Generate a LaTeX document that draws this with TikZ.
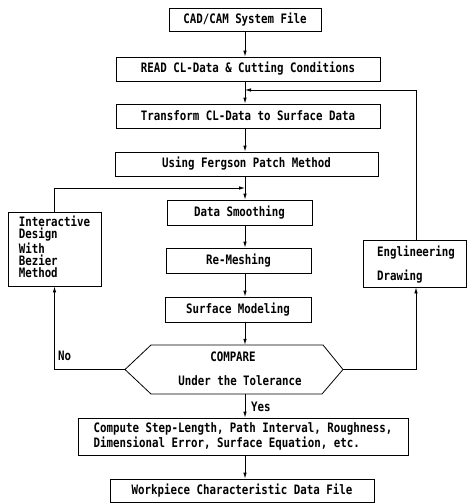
\documentclass[tikz,border=0pt]{standalone}
\usepackage{fontspec}
\setmainfont{DejaVu Sans Mono}[FakeStretch=0.83]
\usetikzlibrary{arrows.meta}
\begin{document}
\begin{tikzpicture}[x=1pt,y=-1pt,
  every node/.style={font=\bfseries\fontsize{13}{13}\selectfont, inner sep=0pt},
  box/.style={draw, line width=0.8pt},
  conn/.style={draw, line width=0.8pt, -{Latex[length=6pt,width=3.5pt]}},
  plain/.style={draw, line width=0.8pt}]
\useasboundingbox (0,0) rectangle (467,503);
\coordinate (cx) at (245,0);
\coordinate (ex) at (416,0);
% boxes
\node[box, minimum width=152pt, minimum height=23pt] (cad) at (245,19.5) {CAD/CAM System File};
\node[box, minimum width=264pt, minimum height=24pt] (read) at (248,69) {READ CL-Data \& Cutting Conditions};
\node[box, minimum width=264pt, minimum height=24pt] (trans) at (248,116) {Transform CL-Data to Surface Data};
\node[box, minimum width=263pt, minimum height=24pt] (fer) at (246.5,164) {Using Fergson Patch Method};
\node[box, minimum width=145pt, minimum height=25pt] (ds) at (239.5,212.5) {Data Smoothing};
\node[box, minimum width=145pt, minimum height=25pt] (rm) at (238.5,260.5) {Re-Meshing};
\node[box, minimum width=146pt, minimum height=25pt] (sm) at (238,309.5) {Surface Modeling};
\node[box, minimum width=93pt, minimum height=74pt] (inter) at (54.5,249) {};
\node[align=left, font=\bfseries\fontsize{13}{12.3}\selectfont] (intertxt) at (54.5,247) {Interactive\\Design\\With\\Bezier\\Method};
\node[box, minimum width=103pt, minimum height=47pt] (eng) at (414.5,263.5) {};
\node[align=left, font=\bfseries\fontsize{13}{24}\selectfont] (engtxt) at (416,265) {Englineering\\Drawing};
\node[box, minimum width=330pt, minimum height=37pt, align=left,
      font=\bfseries\fontsize{13}{11.5}\selectfont] (comp) at (243,436.5)
  {Compute Step-Length, Path Interval, Roughness,\\Dimensional Error, Surface Equation, etc.};
\node[box, minimum width=264pt, minimum height=23pt] (work) at (242,490.5) {Workpiece Characteristic Data File};
% decision hexagon
\node[minimum width=218pt, minimum height=49pt] (cmp) at (234,369.5) {};
\draw[line width=0.8pt] (125,369.5) -- (151,345) -- (323,345) -- (343,369.5) -- (322,394) -- (151,394) -- cycle;
\node (cmpt1) at (233,357) {COMPARE};
\node (cmpt2) at (240,381) {Under the Tolerance};
% main flow
\draw[conn] (cad.south -| cx) -- (read.north -| cx);
\draw[conn] (read.south -| cx) -- (trans.north -| cx);
\draw[conn] (trans.south -| cx) -- (fer.north -| cx);
\draw[conn] (fer.south -| cx) -- (ds.north -| cx);
\draw[conn] (ds.south -| cx) -- (rm.north -| cx);
\draw[conn] (rm.south -| cx) -- (sm.north -| cx);
\draw[conn] (sm.south -| cx) -- (cmp.north -| cx);
\draw[conn] (cmp.south -| cx) -- (comp.north -| cx);
\draw[conn] (comp.south -| cx) -- (work.north -| cx);
% feedback loops
\coordinate (j1) at (245,90);
\coordinate (j2) at (245,188);
\draw[conn] (eng.north -| ex) |- (j1);
\draw[conn] (inter.north) |- (j2);
\draw[conn] (cmp.west) -| (inter.south);
\draw[conn] (cmp.east) -| (eng.south -| ex);
% labels
\node[anchor=west] (no) at (58,356) {No};
\node[anchor=west] (yes) at (251,407) {Yes};
\end{tikzpicture}
\end{document}
